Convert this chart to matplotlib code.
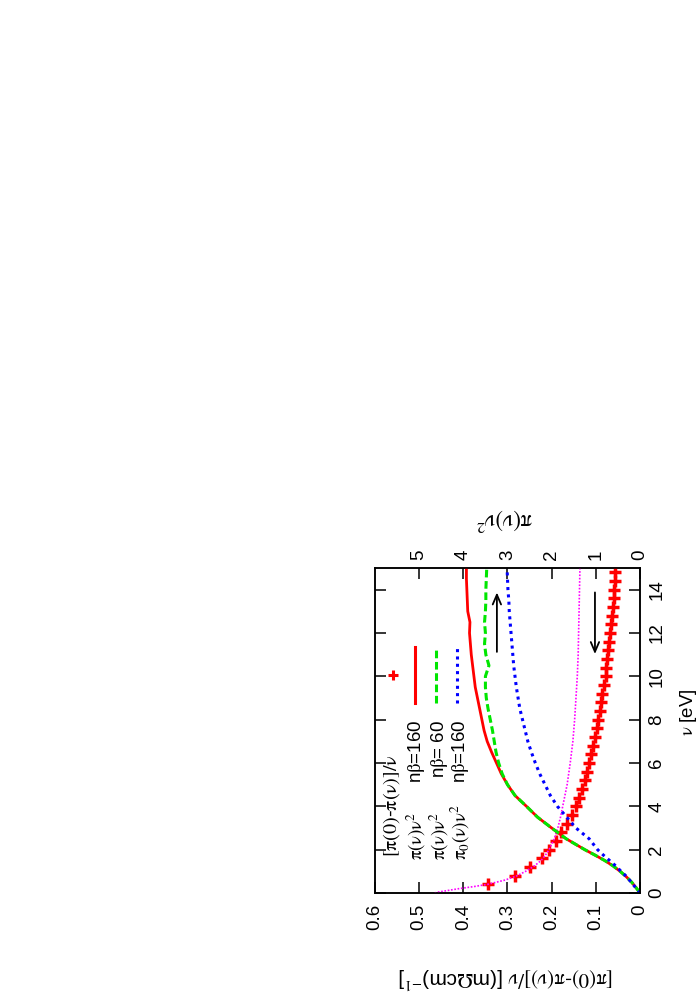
import numpy as np
import matplotlib
matplotlib.use('Agg')
import matplotlib.pyplot as plt

plt.rcParams['font.family'] = ['Liberation Sans', 'DejaVu Sans']
plt.rcParams['mathtext.fontset'] = 'stix'
FS = 13.5

# [pi(0)-pi(nu)]/nu  (left axis, red crosses)
nu_pts = [0.4, 0.8, 1.2, 1.6, 2.0, 2.4, 2.8, 3.2, 3.6, 4.0, 4.4, 4.8, 5.2, 5.6,
          6.0, 6.4, 6.8, 7.2, 7.6, 8.0, 8.4, 8.8, 9.2, 9.6, 10.0, 10.4, 10.8,
          11.2, 11.6, 12.0, 12.4, 12.8, 13.2, 13.6, 14.0, 14.4, 14.8]
dpi_pts = [0.345, 0.283, 0.248, 0.223, 0.206, 0.191, 0.178, 0.166, 0.155, 0.146,
           0.138, 0.131, 0.125, 0.120, 0.115, 0.111, 0.106, 0.102, 0.098, 0.094,
           0.091, 0.088, 0.085, 0.081, 0.078, 0.076, 0.074, 0.072, 0.070, 0.068,
           0.066, 0.064, 0.062, 0.060, 0.059, 0.057, 0.056]

# fit curve (left axis, magenta dotted)
nu_fit = [0.0, 0.05, 0.1, 0.2, 0.3, 0.4, 0.6, 0.8, 1.0, 1.25, 1.5, 1.75, 2.0,
          2.5, 3.0, 3.5, 4.0, 5.0, 6.0, 7.0, 8.0, 9.0, 10.0, 11.0, 12.0, 13.0,
          14.0, 15.0]
fit = [0.465, 0.455, 0.44, 0.41, 0.375, 0.345, 0.305, 0.278, 0.259, 0.239, 0.224,
       0.214, 0.206, 0.194, 0.186, 0.180, 0.175, 0.165, 0.158, 0.152, 0.148,
       0.145, 0.142, 0.140, 0.139, 0.138, 0.137, 0.136]

# pi(nu) nu^2 curves (right axis)
nu = [0.0, 0.25, 0.5, 0.75, 1.0, 1.25, 1.5, 1.75, 2.0, 2.5, 3.0, 3.5, 4.0, 4.5,
      5.0, 5.5, 6.0, 6.5, 7.0, 7.5, 8.0, 8.5, 9.0, 9.5, 10.0, 10.5, 11.0, 11.5,
      12.0, 12.5, 13.0, 13.5, 14.0, 14.5, 15.0]
pi_160 = [0.0, 0.09, 0.19, 0.31, 0.45, 0.61, 0.80, 1.02, 1.25, 1.67, 2.0, 2.32,
          2.57, 2.83, 3.0, 3.14, 3.25, 3.36, 3.46, 3.53, 3.58, 3.63, 3.68, 3.73,
          3.76, 3.79, 3.82, 3.84, 3.86, 3.85, 3.90, 3.91, 3.92, 3.93, 3.93]
pi_60 = [0.0, 0.09, 0.19, 0.31, 0.45, 0.61, 0.80, 1.02, 1.25, 1.67, 2.0, 2.32,
         2.57, 2.83, 3.0, 3.12, 3.20, 3.26, 3.30, 3.34, 3.39, 3.44, 3.48, 3.50,
         3.50, 3.42, 3.49, 3.52, 3.50, 3.52, 3.50, 3.49, 3.49, 3.48, 3.47]
pi0_160 = [0.0, 0.10, 0.20, 0.30, 0.43, 0.55, 0.69, 0.83, 0.96, 1.15, 1.45, 1.66,
           1.87, 2.03, 2.15, 2.27, 2.37, 2.46, 2.54, 2.60, 2.66, 2.72, 2.76, 2.80,
           2.83, 2.86, 2.88, 2.90, 2.92, 2.94, 2.96, 2.97, 2.99, 3.00, 3.01]

y1_ticks = [0.0, 0.1, 0.2, 0.3, 0.4, 0.5, 0.6]
y1_labels = ['0', '0.1', '0.2', '0.3', '0.4', '0.5', '0.6']
y2_ticks = [0, 1, 2, 3, 4, 5]
nu_ticks = [0, 2, 4, 6, 8, 10, 12, 14]

RED, GREEN, BLUE, MAG = '#ff0000', '#00e600', '#0000ff', '#ff00ff'
PI, NU = r'\mathrm{\pi}', r'\mathrm{\nu}'

fig = plt.figure(figsize=(7, 10), dpi=100)
ax = fig.add_axes([0.5357, 0.107, 0.3786, 0.325])
ax.set_xlim(0.6, 0)
ax.set_ylim(0, 15)
ax2 = ax.twiny()
ax2.set_xlim(6, 0)

# curves (the whole gnuplot figure is turned by 90 degrees)
ax.plot(dpi_pts, nu_pts, linestyle='none', marker='+', color=RED,
        markersize=9, markeredgewidth=2.5, zorder=3)
ax2.plot(pi_160, nu, color=RED, lw=2.0, zorder=2)
ax2.plot(pi_60, nu, color=GREEN, lw=2.2, linestyle=(0, (2.5, 1.2)), zorder=2)
ax2.plot(pi0_160, nu, color=BLUE, lw=2.2, linestyle=(0, (1, 1.4)), zorder=2)
ax.plot(fit, nu_fit, color=MAG, lw=1.2, linestyle=(0, (1, 1)), zorder=4)

# arrows pointing at the axes
ax.annotate('', xy=(0.324, 14.0), xytext=(0.324, 11.0),
            arrowprops=dict(arrowstyle='->,head_length=0.7,head_width=0.3',
                            color='black', lw=1.3))
ax.annotate('', xy=(0.102, 10.9), xytext=(0.102, 14.0),
            arrowprops=dict(arrowstyle='->,head_length=0.7,head_width=0.3',
                            color='black', lw=1.3))

# ticks
ax.set_xticks(y1_ticks)
ax.set_xticklabels(y1_labels)
ax.set_yticks(nu_ticks)
ax.set_yticklabels([str(t) for t in nu_ticks])
ax2.set_xticks(y2_ticks)
ax2.set_xticklabels([str(t) for t in y2_ticks])

ax.tick_params(axis='x', direction='in', bottom=True, top=False, length=8,
               width=1.1, labelsize=FS, labelrotation=90, pad=8)
ax.tick_params(axis='y', direction='in', left=True, right=True, length=8,
               width=1.1, labelleft=False, labelright=True, labelsize=FS,
               labelrotation=90, pad=6)
ax2.tick_params(axis='x', direction='in', top=True, bottom=False, length=8,
                width=1.1, labeltop=True, labelbottom=False, labelsize=FS,
                labelrotation=90, pad=6)
for lbl in ax.get_yticklabels():
    lbl.set_va('center')

for a in (ax, ax2):
    for s in a.spines.values():
        s.set_linewidth(1.1)

# axis titles
fig.text(0.723, 0.022,
         rf'$[{PI}(0)$-${PI}({NU})]/{NU}$ [(m$\mathrm{{\Omega}}$cm)$^{{-1}}$]',
         rotation=180, ha='center', va='center', fontsize=FS + 1.5)
fig.text(0.721, 0.480, rf'${PI}({NU}){NU}^2$', rotation=180, ha='center',
         va='center', fontsize=FS + 3)
fig.text(0.983, 0.288, rf'${NU}$ [eV]', rotation=90, ha='center', va='center',
         fontsize=FS)

# key
tr = ax.transAxes
ax.text(0.064, 0.111, rf'$[{PI}(0)$-${PI}({NU})]/{NU}$', transform=tr,
        rotation=90, ha='center', va='bottom', fontsize=FS + 1)
ax.plot([0.068], [0.671], transform=tr, marker='+', color=RED, markersize=7,
        markeredgewidth=2.2, linestyle='none')
rows = [(0.155, rf'${PI}({NU}){NU}^2$', r'n$\mathrm{\beta}$=160', 0.151, RED, '-'),
        (0.242, rf'${PI}({NU}){NU}^2$', r'n$\mathrm{\beta}$= 60', 0.230, GREEN,
         (0, (2.5, 1.2))),
        (0.323, rf'${PI}_0({NU}){NU}^2$', r'n$\mathrm{\beta}$=160', 0.309, BLUE,
         (0, (1, 1.4)))]
for xt, lab, nb, xs, col, ls in rows:
    ax.text(xt, 0.102, lab, transform=tr, rotation=90, ha='center',
            va='bottom', fontsize=FS)
    ax.text(xt, 0.532, nb, transform=tr, rotation=90, ha='center', va='top',
            fontsize=FS)
    ax.plot([xs, xs], [0.585, 0.757], transform=tr, color=col, lw=2.2,
            linestyle=ls)

fig.savefig('out.png', dpi=100)
